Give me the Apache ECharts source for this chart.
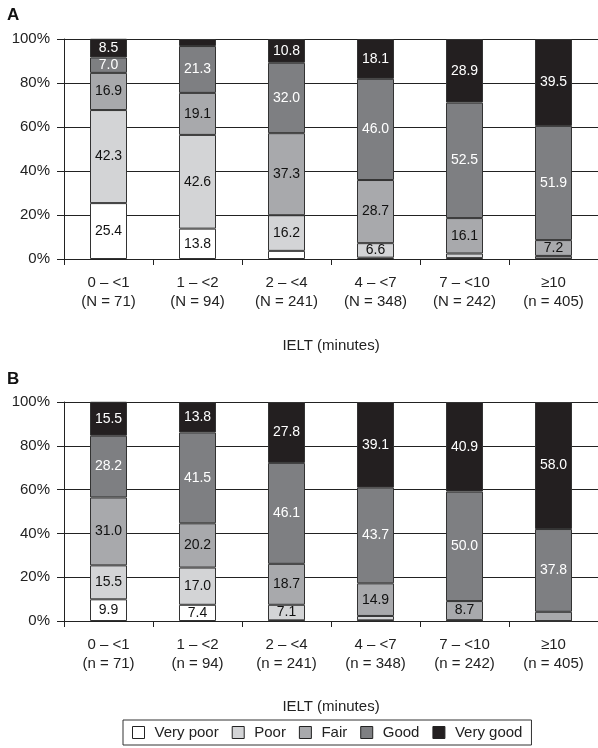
<!DOCTYPE html>
<html><head><meta charset="utf-8">
<script src="https://cdn.jsdelivr.net/npm/echarts@6/dist/echarts.min.js"></script>
<style>html,body{margin:0;padding:0;background:#fff}#c{width:598px;height:748px}</style>
</head><body><div id="c"></div>
<script>
const categoriesA = ['0 – <1\n(N = 71)', '1 – <2\n(N = 94)', '2 – <4\n(N = 241)', '4 – <7\n(N = 348)', '7 – <10\n(N = 242)', '≥10\n(n = 405)'];
const categoriesB = ['0 – <1\n(n = 71)', '1 – <2\n(n = 94)', '2 – <4\n(n = 241)', '4 – <7\n(n = 348)', '7 – <10\n(n = 242)', '≥10\n(n = 405)'];
const seriesNames = ['Very poor', 'Poor', 'Fair', 'Good', 'Very good'];
// Panel A
const aVeryPoor = [25.4, 13.8, 3.7, 0.6, 0.4, 0.2];
const aPoor     = [42.3, 42.6, 16.2, 6.6, 2.1, 1.2];
const aFair     = [16.9, 19.1, 37.3, 28.7, 16.1, 7.2];
const aGood     = [7.0, 21.3, 32.0, 46.0, 52.5, 51.9];
const aVeryGood = [8.5, 3.2, 10.8, 18.1, 28.9, 39.5];
// Panel B
const bVeryPoor = [9.9, 7.4, 0.3, 0.3, 0.0, 0.0];
const bPoor     = [15.5, 17.0, 7.1, 2.0, 0.4, 0.0];
const bFair     = [31.0, 20.2, 18.7, 14.9, 8.7, 4.2];
const bGood     = [28.2, 41.5, 46.1, 43.7, 50.0, 37.8];
const bVeryGood = [15.5, 13.8, 27.8, 39.1, 40.9, 58.0];
const yTicks = [0, 20, 40, 60, 80, 100];

const colors = ['#ffffff', '#d3d4d6', '#a8a9ac', '#7e7f82', '#231f20'];
const labelColors = ['#111', '#111', '#111', '#fff', '#fff'];
const FONT = 'Liberation Sans, Arial, sans-serif';

const chart = echarts.init(document.getElementById('c'));
const dataA = [aVeryPoor, aPoor, aFair, aGood, aVeryGood];
const dataB = [bVeryPoor, bPoor, bFair, bGood, bVeryGood];

function mkSeries(data, idx, stack) {
  return data.map((arr, i) => ({
    name: seriesNames[i], type: 'bar', stack: stack,
    xAxisIndex: idx, yAxisIndex: idx, barWidth: 37,
    data: arr,
    itemStyle: { color: colors[i], borderColor: '#333', borderWidth: 1 },
    label: {
      show: true, position: 'inside', color: labelColors[i],
      fontFamily: FONT, fontSize: 14,
      formatter: p => p.value >= 5 ? p.value.toFixed(1) : ''
    },
    emphasis: { disabled: true }
  }));
}

function xAx(idx, cats, gap) {
  return {
    type: 'category', gridIndex: idx, data: cats,
    axisLine: { lineStyle: { color: '#222', width: 1 } },
    axisTick: { show: true, length: 6, lineStyle: { color: '#222' } },
    axisLabel: { color: '#222', fontFamily: FONT, fontSize: 15, lineHeight: 19, margin: 14, interval: 0 },
    name: 'IELT (minutes)', nameLocation: 'middle', nameGap: gap,
    nameTextStyle: { color: '#222', fontFamily: FONT, fontSize: 15 }
  };
}
function yAx(idx) {
  return {
    type: 'value', gridIndex: idx, min: 0, max: 100, interval: 20,
    axisLine: { show: true, lineStyle: { color: '#222', width: 1 } },
    axisTick: { show: true, length: 7, lineStyle: { color: '#222' } },
    splitLine: { show: true, lineStyle: { color: '#222', width: 1 } },
    axisLabel: { color: '#222', fontFamily: FONT, fontSize: 15, margin: 14,
      formatter: v => yTicks.includes(v) ? v + '%' : '' }
  };
}

chart.setOption({
  animation: false,
  textStyle: { fontFamily: FONT },
  graphic: [
    { type: 'text', left: 7, top: 7, style: { text: 'A', font: 'bold 17px ' + FONT, fill: '#111' } },
    { type: 'text', left: 7, top: 371, style: { text: 'B', font: 'bold 17px ' + FONT, fill: '#111' } }
  ],
  grid: [
    { left: 64, top: 39, width: 539, height: 220 },
    { left: 64, top: 402, width: 539, height: 219 }
  ],
  xAxis: [xAx(0, categoriesA, 79), xAx(1, categoriesB, 78)],
  yAxis: [yAx(0), yAx(1)],
  legend: {
    data: seriesNames, left: 123, top: 720,
    borderColor: '#333', borderWidth: 1, padding: [5, 9],
    itemWidth: 12, itemHeight: 12, itemGap: 13, icon: 'rect',
    itemStyle: { borderColor: '#222', borderWidth: 1 },
    textStyle: { color: '#222', fontFamily: FONT, fontSize: 15, padding: [0, 0, 0, 5] },
    selectedMode: false
  },
  series: [...mkSeries(dataA, 0, 'A'), ...mkSeries(dataB, 1, 'B')]
});
</script></body></html>
